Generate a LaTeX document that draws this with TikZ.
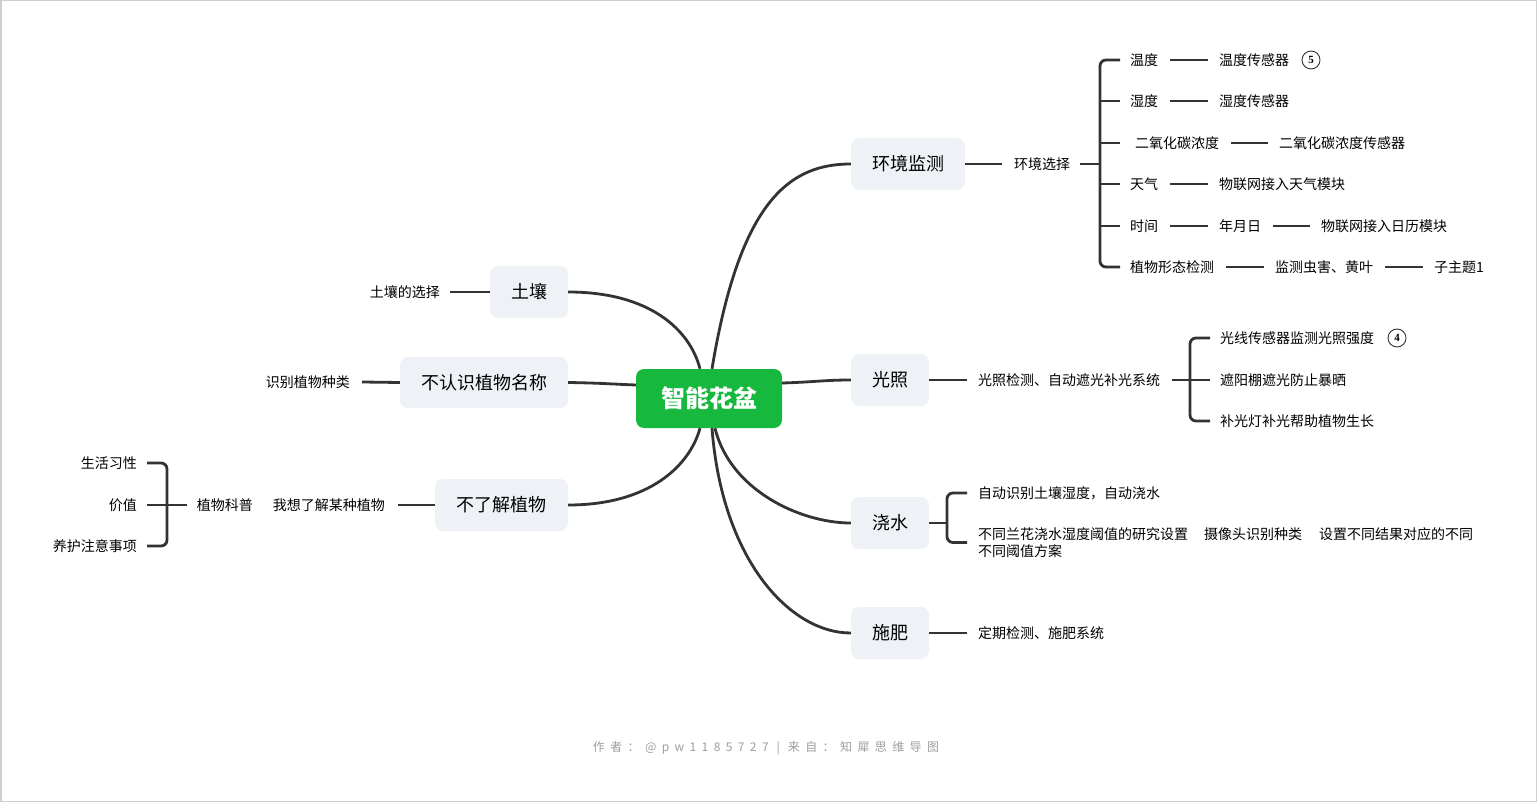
\documentclass[tikz,border=0pt]{standalone}
\usepackage{fontspec}
\setmainfont{Noto Sans CJK SC}
\newfontfamily\footfont{Noto Sans CJK SC}[LetterSpace=45]
\newfontfamily\numfont{Liberation Serif}
\usetikzlibrary{calc}
\definecolor{lineC}{HTML}{333333}
\definecolor{boxC}{HTML}{EEF1F5}
\definecolor{rootC}{HTML}{16B93D}
\definecolor{footC}{HTML}{9E9E9E}
\definecolor{frameC}{HTML}{CFCFCF}
\begin{document}
\begin{tikzpicture}[x=1pt,y=-1pt,
  conn/.style={draw=lineC, line width=2.8pt},
  rootbox/.style={fill=rootC, text=white, rounded corners=8pt, minimum width=146pt, minimum height=59pt, inner sep=0pt, font=\bfseries\fontsize{24}{24}\selectfont},
  topic/.style={fill=boxC, rounded corners=8pt, minimum height=52pt, inner sep=0pt, font=\fontsize{18}{18}\selectfont},
  lab/.style={inner sep=0pt, anchor=west, font=\fontsize{14}{14}\selectfont},
  labr/.style={inner sep=0pt, anchor=east, font=\fontsize{14}{14}\selectfont},
  num/.style={draw=lineC, circle, line width=0.9pt, minimum size=18pt, inner sep=0pt, font=\numfont\bfseries\fontsize{11}{11}\selectfont},
  footnode/.style={inner sep=0pt, text=footC, font=\footfont\fontsize{12}{12}\selectfont}]
\useasboundingbox (0,0) rectangle (1537,802);
\fill[white] (0,0) rectangle (1537,802);
\draw[frameC, line width=1.5pt] (0.75,0.75) rectangle (1536.25,801.25);

% main topics
\node[rootbox] (root) at (709,398.5) {智能花盆};
\node[topic, minimum width=114pt] (hj) at (908,164) {环境监测};
\node[topic, minimum width=78pt] (gz) at (890,380) {光照};
\node[topic, minimum width=78pt] (js) at (890,523) {浇水};
\node[topic, minimum width=78pt] (sf) at (890,633) {施肥};
\node[topic, minimum width=78pt] (tr) at (529,292) {土壤};
\node[topic, minimum width=168pt, minimum height=51pt] (brs) at (484,382.5) {不认识植物名称};
\node[topic, minimum width=133pt] (blj) at (501.5,505) {不了解植物};

% root connectors
\draw[conn] ([xshift=3pt]root.north) .. controls (740,200) and (790,164) .. (hj.west);
\draw[conn] ([yshift=15.5pt]root.east) .. controls (815,382) and (825,380) .. (gz.west);
\draw[conn] ([xshift=6pt]root.south) .. controls (730,490) and (800,523) .. (js.west);
\draw[conn] ([xshift=3pt]root.south) .. controls (722,560) and (790,633) .. (sf.west);
\draw[conn] (tr.east) .. controls (650,292) and (690,330) .. ([xshift=-9pt]root.north);
\draw[conn] (brs.east) .. controls (600,383) and (610,384) .. ([yshift=13.5pt]root.west);
\draw[conn] (blj.east) .. controls (650,505) and (690,465) .. ([xshift=-9pt]root.south);

% 环境监测
\node[lab] (hjx) at (1014,164) {环境选择};
\coordinate (hjb) at (1100,164);
\draw[conn] (hj.east) -- ([xshift=-12pt]hjx.west);
\draw[conn] ([xshift=10pt]hjx.east) -- (hjb);
\node[lab] (w1) at (1130,60) {温度};
\node[lab] (w2) at (1130,101) {湿度};
\node[lab] (w3) at (1135,143) {二氧化碳浓度};
\node[lab] (w4) at (1130,184) {天气};
\node[lab] (w5) at (1130,226) {时间};
\node[lab] (w6) at (1130,267) {植物形态检测};
\draw[conn, rounded corners=6pt] ([xshift=-10pt]w1.west) -| (hjb) |- ([xshift=-10pt]w6.west);
\draw[conn] (hjb |- w2.west) -- ([xshift=-10pt]w2.west);
\draw[conn] (hjb |- w3.west) -- ([xshift=-15pt]w3.west);
\draw[conn] (hjb |- w4.west) -- ([xshift=-10pt]w4.west);
\draw[conn] (hjb |- w5.west) -- ([xshift=-10pt]w5.west);
\node[lab] (w1a) at (1219,60) {温度传感器};
\node[num] (n5) at (1311,60) {5};
\node[lab] (w2a) at (1219,101) {湿度传感器};
\node[lab] (w3a) at (1279,143) {二氧化碳浓度传感器};
\node[lab] (w4a) at (1219,184) {物联网接入天气模块};
\node[lab] (w5a) at (1219,226) {年月日};
\node[lab] (w5b) at (1321,226) {物联网接入日历模块};
\node[lab] (w6a) at (1275,267) {监测虫害、黄叶};
\node[lab] (w6b) at (1434,267) {子主题1};
\draw[conn] ([xshift=12pt]w1.east) -- ([xshift=-11pt]w1a.west);
\draw[conn] ([xshift=12pt]w2.east) -- ([xshift=-11pt]w2a.west);
\draw[conn] ([xshift=12pt]w3.east) -- ([xshift=-11pt]w3a.west);
\draw[conn] ([xshift=12pt]w4.east) -- ([xshift=-11pt]w4a.west);
\draw[conn] ([xshift=12pt]w5.east) -- ([xshift=-11pt]w5a.west);
\draw[conn] ([xshift=12pt]w5a.east) -- ([xshift=-11pt]w5b.west);
\draw[conn] ([xshift=12pt]w6.east) -- ([xshift=-11pt]w6a.west);
\draw[conn] ([xshift=12pt]w6a.east) -- ([xshift=-11pt]w6b.west);

% 光照
\node[lab] (gzx) at (978,380) {光照检测、自动遮光补光系统};
\coordinate (gzb) at (1190,380);
\draw[conn] (gz.east) -- ([xshift=-11pt]gzx.west);
\draw[conn] ([xshift=12pt]gzx.east) -- (gzb);
\node[lab] (g1) at (1220,338) {光线传感器监测光照强度};
\node[num] (n4) at (1397,338) {4};
\node[lab] (g2) at (1220,380) {遮阳棚遮光防止暴晒};
\node[lab] (g3) at (1220,421) {补光灯补光帮助植物生长};
\draw[conn, rounded corners=6pt] ([xshift=-10pt]g1.west) -| (gzb) |- ([xshift=-10pt]g3.west);
\draw[conn] (gzb) -- ([xshift=-10pt]g2.west);

% 浇水
\coordinate (jsb) at (947,523);
\draw[conn] (js.east) -- (jsb);
\node[lab] (j1) at (978,493) {自动识别土壤湿度，自动浇水};
\node[lab, align=left, font=\fontsize{14}{17}\selectfont] (j2) at (978,542.5) {不同兰花浇水湿度阈值的研究设置\hspace{16pt}摄像头识别种类\hspace{17pt}设置不同结果对应的不同\\不同阈值方案};
\draw[conn, rounded corners=6pt] ([xshift=-11pt]j1.west) -| (jsb) |- ([xshift=-11pt]j2.west);

% 施肥
\node[lab] (sfx) at (978,633) {定期检测、施肥系统};
\draw[conn] (sf.east) -- ([xshift=-11pt]sfx.west);

% left side
\node[labr] (trx) at (440,292) {土壤的选择};
\draw[conn] ([xshift=10pt]trx.east) -- (tr.west);
\node[labr] (brx) at (350,382) {识别植物种类};
\draw[conn] ([xshift=12pt]brx.east) -- (brs.west);
\node[labr] (bjx) at (385,505) {我想了解某种植物};
\draw[conn] ([xshift=13pt]bjx.east) -- (blj.west);
\node[labr] (kp) at (253,505) {植物科普};
\coordinate (kpb) at (167,505);
\node[labr] (l1) at (137,463) {生活习性};
\node[labr] (l2) at (137,505) {价值};
\node[labr] (l3) at (137,546) {养护注意事项};
\draw[conn] ([xshift=-10pt]kp.west) -- ([xshift=10pt]l2.east);
\draw[conn, rounded corners=6pt] ([xshift=10pt]l1.east) -| (kpb) |- ([xshift=10pt]l3.east);

% footer
\node[footnode] (ft) at (766,748) {作者：@pw1185727\hspace{8pt}|\hspace{8pt}来自：知犀思维导图};
\end{tikzpicture}
\end{document}
